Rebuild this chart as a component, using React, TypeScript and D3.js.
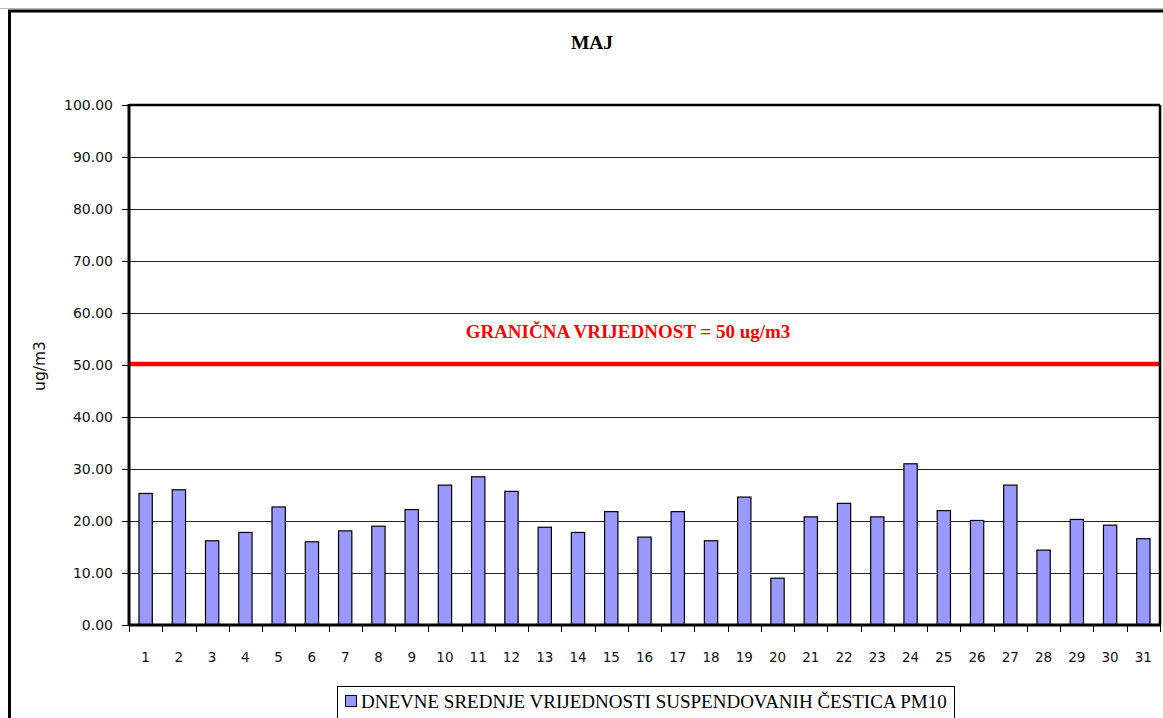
import React from 'react';
import * as d3 from 'd3';

// dnevne srednje vrijednosti PM10, maj
const days = d3.range(1, 32).map(String);
const pm10 = [
	25.3, 26.0, 16.2, 17.8, 22.7, 16.0, 18.1, 19.0, 22.2, 26.9,
	28.5, 25.7, 18.8, 17.8, 21.8, 16.9, 21.8, 16.2, 24.6, 9.0,
	20.8, 23.4, 20.8, 31.0, 22.0, 20.1, 26.9, 14.4, 20.3, 19.2, 16.6
];
const yTicks = [0, 10, 20, 30, 40, 50, 60, 70, 80, 90, 100];
const limitValue = 50;
const title = 'MAJ';
const yLabel = 'ug/m3';
const limitLabel = 'GRANIČNA VRIJEDNOST = 50 ug/m3';
const legendLabel = 'DNEVNE SREDNJE VRIJEDNOSTI SUSPENDOVANIH ČESTICA PM10';

const W = 1163,
	H = 718;
const left = 129,
	right = 1160,
	top = 105,
	bottom = 625;

export default function App() {
	const x = d3.scaleBand().domain(days).range([left, right]).padding(0);
	const y = d3.scaleLinear().domain([0, 100]).range([bottom, top]);
	const barW = x.bandwidth() * 0.4;
	const sans = "'DejaVu Sans', Verdana, sans-serif";
	const serif = "'Liberation Serif', 'Times New Roman', serif";

	return (
		<div style={{ position: 'absolute', left: 0, top: 0 }}>
			<svg width={W} height={H} style={{ display: 'block', background: '#fff' }}>
				{/* outer frame */}
				<line x1={0} x2={W} y1={8.5} y2={8.5} stroke="#bbb" strokeWidth={1} />
				<rect x={9.5} y={11} width={W + 10} height={H + 10} fill="none" stroke="#000" strokeWidth={3} />

				<text x={592} y={49} textAnchor="middle" style={{ fontFamily: serif }} fontWeight="bold" fontSize={19.5}>
					{title}
				</text>

				{/* gridlines */}
				{yTicks.map(t => (
					<g key={t}>
						<line x1={left} x2={right} y1={Math.round(y(t)) + 0.5} y2={Math.round(y(t)) + 0.5} stroke="#222" strokeWidth={1} />
						<line x1={left - 7} x2={left} y1={Math.round(y(t)) + 0.5} y2={Math.round(y(t)) + 0.5} stroke="#000" strokeWidth={1} />
						<text x={113} y={y(t) + 5} textAnchor="end" style={{ fontFamily: sans }} fontSize={14} fill="#111">
							{t.toFixed(2)}
						</text>
					</g>
				))}

				{/* bars */}
				{pm10.map((v, i) => (
					<rect
						key={i}
						x={x(days[i])! + (x.bandwidth() - barW) / 2}
						y={y(v)}
						width={barW}
						height={y(0) - y(v)}
						fill="#9999FF"
						stroke="#000"
						strokeWidth={1.2}
					/>
				))}

				{/* limit line */}
				<line x1={left} x2={right} y1={y(limitValue) - 1} y2={y(limitValue) - 1} stroke="#FF0000" strokeWidth={4.5} />
				<text x={628} y={338} textAnchor="middle" style={{ fontFamily: serif }} fontWeight="bold" fontSize={19} fill="#FF0000">
					{limitLabel}
				</text>

				{/* plot border + axes */}
				<line x1={left} x2={right} y1={top} y2={top} stroke="#000" strokeWidth={2.5} />
				<line x1={right} x2={right} y1={top} y2={bottom} stroke="#000" strokeWidth={2.5} />
				<line x1={left} x2={left} y1={top - 1} y2={bottom + 1} stroke="#000" strokeWidth={3} />
				<line x1={left} x2={right + 1} y1={bottom} y2={bottom} stroke="#000" strokeWidth={3} />

				{/* x ticks and labels */}
				{days.map(d => (
					<g key={d}>
						<line x1={Math.round(x(d)!) + 0.5} x2={Math.round(x(d)!) + 0.5} y1={bottom} y2={bottom + 7} stroke="#000" strokeWidth={1} />
						<text x={x(d)! + x.bandwidth() / 2} y={662} textAnchor="middle" style={{ fontFamily: sans }} fontSize={13.5} fill="#111">
							{d}
						</text>
					</g>
				))}
				<line x1={right + 0.5} x2={right + 0.5} y1={bottom} y2={bottom + 7} stroke="#000" strokeWidth={1} />

				<text
					transform={`translate(45,366) rotate(-90)`}
					textAnchor="middle"
					style={{ fontFamily: sans }}
					fontSize={15.5}
					fill="#111"
				>
					{yLabel}
				</text>

				{/* legend */}
				<rect x={337.5} y={686.5} width={617} height={40} fill="#fff" stroke="#000" strokeWidth={1} />
				<rect x={345.5} y={695.5} width={11} height={11} fill="#9999FF" stroke="#000" strokeWidth={1} />
				<text x={361} y={708} style={{ fontFamily: serif }} fontSize={19}>
					{legendLabel}
				</text>
			</svg>
		</div>
	);
}
